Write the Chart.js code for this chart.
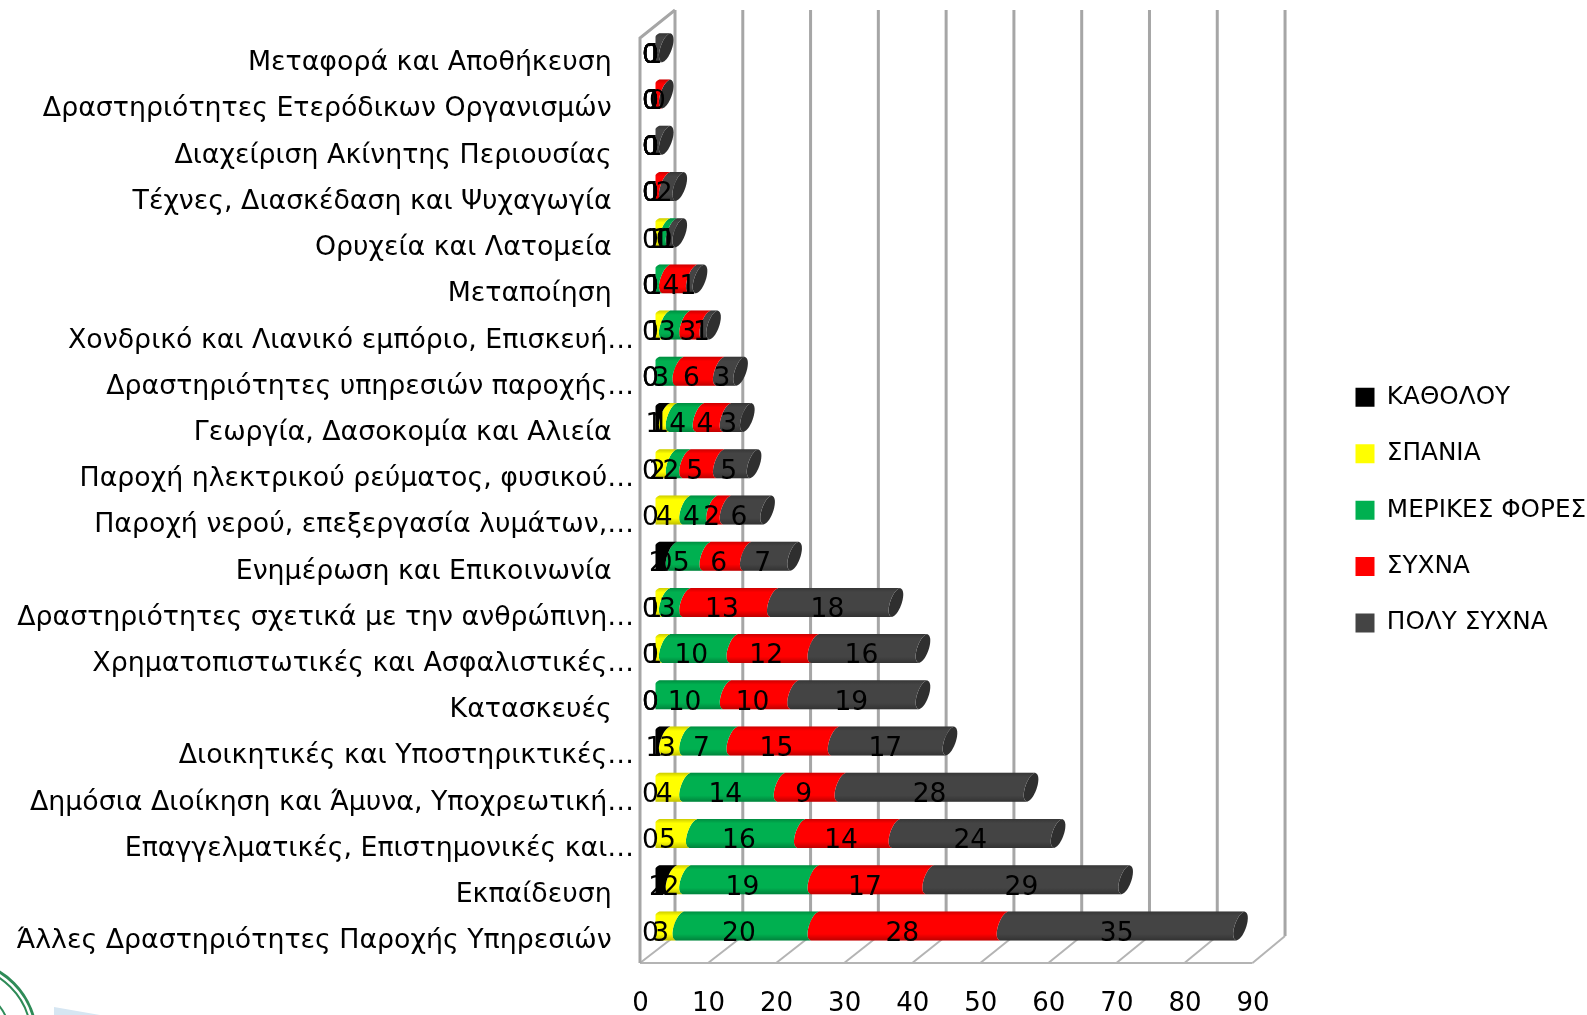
<!DOCTYPE html>
<html lang="el"><head><meta charset="utf-8">
<style>html,body{margin:0;padding:0;background:#fff}canvas{display:block}</style>
<script src="https://cdn.jsdelivr.net/npm/chart.js@4/dist/chart.umd.min.js"></script>
</head><body><canvas id="c" width="1587" height="1015"></canvas>
<script>
const categories = [
 "Μεταφορά και Αποθήκευση","Δραστηριότητες Ετερόδικων Οργανισμών","Διαχείριση Ακίνητης Περιουσίας",
 "Τέχνες, Διασκέδαση και Ψυχαγωγία","Ορυχεία και Λατομεία","Μεταποίηση",
 "Χονδρικό και Λιανικό εμπόριο, Επισκευή…","Δραστηριότητες υπηρεσιών παροχής…","Γεωργία, Δασοκομία και Αλιεία",
 "Παροχή ηλεκτρικού ρεύματος, φυσικού…","Παροχή νερού, επεξεργασία λυμάτων,…","Ενημέρωση και Επικοινωνία",
 "Δραστηριότητες σχετικά με την ανθρώπινη…","Χρηματοπιστωτικές και Ασφαλιστικές…","Κατασκευές",
 "Διοικητικές και Υποστηρικτικές…","Δημόσια Διοίκηση και Άμυνα, Υποχρεωτική…","Επαγγελματικές, Επιστημονικές και…",
 "Εκπαίδευση","Άλλες Δραστηριότητες Παροχής Υπηρεσιών"];
const kathólou    = [0,0,0,0,0,0,0,0,1,0,0,2,0,0,0,1,0,0,2,0];
const spania      = [0,0,0,0,1,0,1,0,1,2,4,0,1,1,0,3,4,5,2,3];
const merikes     = [0,0,0,0,1,1,3,3,4,2,4,5,3,10,10,7,14,16,19,20];
const sychna      = [0,1,0,1,0,4,3,6,4,5,2,6,13,12,10,15,9,14,17,28];
const polySychna  = [1,0,1,2,1,1,1,3,3,5,6,7,18,16,19,17,28,24,29,35];
const seriesNames = ["ΚΑΘΟΛΟΥ","ΣΠΑΝΙΑ","ΜΕΡΙΚΕΣ ΦΟΡΕΣ","ΣΥΧΝΑ","ΠΟΛΥ ΣΥΧΝΑ"];
const seriesColors = ["#000000","#FFFF00","#00B050","#FF0000","#444444"];
const FONT = '"DejaVu Sans"';

const TILT=4, BULGE=8;
let zeroPx=0;
const depth=px=>{const d=px-zeroPx;return zeroPx+d*0.9927+(d>0.5?4:0);};
class CylBar extends Chart.BarElement {
  static id='cylBar';
  draw(ctx){
    const p=this.getProps(['x','y','base','height']);
    const x=depth(p.x), base=depth(p.base), y=p.y, height=p.height;
    const top=y-height/2, bot=y+height/2;
    const o=this.options;
    const isLast=o.backgroundColor===seriesColors[seriesColors.length-1];
    const shade=ctx.createLinearGradient(0,top,0,bot);
    shade.addColorStop(0,'rgba(0,0,0,.2)');shade.addColorStop(.15,'rgba(0,0,0,0)');
    shade.addColorStop(.78,'rgba(0,0,0,0)');shade.addColorStop(1,'rgba(0,0,0,.25)');
    ctx.save();
    if(x-base>0.01){
      ctx.beginPath();
      ctx.moveTo(base+TILT,top);
      ctx.lineTo(x+TILT,top);
      ctx.bezierCurveTo(x+TILT-BULGE,top+2,x-TILT-BULGE,bot-2,x-TILT,bot);
      ctx.lineTo(base-TILT,bot);
      ctx.bezierCurveTo(base-TILT-BULGE,bot-2,base+TILT-BULGE,top+2,base+TILT,top);
      ctx.closePath();
      ctx.fillStyle=o.backgroundColor;ctx.fill();
      ctx.fillStyle=shade;ctx.fill();
    }
    if(isLast){
      ctx.beginPath();
      ctx.moveTo(x+TILT,top);
      ctx.bezierCurveTo(x+TILT+BULGE,top+2,x-TILT+BULGE,bot-2,x-TILT,bot);
      ctx.bezierCurveTo(x-TILT-BULGE,bot-2,x+TILT-BULGE,top+2,x+TILT,top);
      ctx.closePath();
      ctx.fillStyle='#2f2f2f';ctx.fill();
    }
    ctx.restore();
  }
}
Chart.register(CylBar);
Chart.defaults.datasets.bar.dataElementType='cylBar';

const values=[kathólou,spania,merikes,sychna,polySychna];

const walls={
  id:'walls',
  beforeLayout(chart){
    const l=chart.legend;
    if(!l.$fixed){
      const fit=l.fit;
      l.fit=function(){fit.call(this);this.width=319;};
      l.$fixed=true;
    }
  },
  afterLayout(chart){
    const l=chart.legend, p=l.options.labels.padding;
    const w=l.right-l.left;
    l.left=1355.5-p; l.right=l.left+w; l.top=385-p; l.bottom=l.top+l.height;
  },
  beforeDatasetsDraw(chart){
    const ctx=chart.ctx, xs=chart.scales.x;
    const z=xs.getPixelForValue(0);
    zeroPx=z;
    const frontX=v=>640+(xs.getPixelForValue(v)-z)*1.0;
    const backX=v=>675+(xs.getPixelForValue(v)-z)*0.996;
    const T=10,FT=38,B=963,BB=936;
    ctx.save();ctx.lineCap='butt';
    ctx.strokeStyle='#a6a6a6';ctx.lineWidth=3;
    for(let v=0;v<=90;v+=10){
      ctx.beginPath();ctx.moveTo(backX(v),T);ctx.lineTo(backX(v),BB);ctx.stroke();
    }
    ctx.strokeStyle='#b4b4b4';ctx.lineWidth=2;
    for(let v=0;v<=90;v+=10){
      ctx.beginPath();ctx.moveTo(frontX(v),B);ctx.lineTo(backX(v),BB);ctx.stroke();
    }
    ctx.beginPath();ctx.moveTo(frontX(0),B);ctx.lineTo(frontX(90),B);ctx.stroke();
    ctx.strokeStyle='#a6a6a6';ctx.lineWidth=3;
    ctx.beginPath();ctx.moveTo(frontX(0),B);ctx.lineTo(frontX(0),FT);ctx.lineTo(backX(0),T);ctx.stroke();
    ctx.restore();
  },
  afterDatasetsDraw(chart){
    const ctx=chart.ctx;
    ctx.save();ctx.font='26.5px '+FONT;ctx.fillStyle='#000';ctx.textAlign='center';ctx.textBaseline='middle';
    chart.data.datasets.forEach((ds,i)=>{
      chart.getDatasetMeta(i).data.forEach((el,j)=>{
        const p=el.getProps(['x','y','base']);
        ctx.fillText(String(ds.data[j]),(p.x+p.base)/2-5,p.y+8);
      });
    });
    ctx.restore();
  },
  beforeDraw(chart){
    const ctx=chart.ctx;
    ctx.save();
    ctx.fillStyle='#d6e6f2';
    ctx.beginPath();ctx.moveTo(54,1007);ctx.lineTo(100,1015);ctx.lineTo(54,1015);ctx.closePath();ctx.fill();
    ctx.strokeStyle='#2e8b57';
    [[76,3],[71,2],[50,2]].forEach(([r,w])=>{
      ctx.lineWidth=w;ctx.beginPath();ctx.arc(-40,1037,r,0,2*Math.PI);ctx.stroke();
    });
    ctx.restore();
  }
};

new Chart(document.getElementById('c'),{
  type:'bar',
  data:{labels:categories,datasets:seriesNames.map((n,i)=>({
    label:n,data:values[i],backgroundColor:seriesColors[i],borderWidth:0,
    categoryPercentage:1,barPercentage:0.627
  }))},
  options:{
    indexAxis:'y',responsive:false,animation:false,
    layout:{autoPadding:false,padding:{top:24.7,left:0,right:0,bottom:0}},
    plugins:{
      tooltip:{enabled:false},
      legend:{position:'right',align:'start',
        labels:{boxWidth:19,boxHeight:19,padding:31.7,color:'#000',font:{family:FONT,size:24.7}}}
    },
    scales:{
      x:{stacked:true,min:0,max:90,
        grid:{display:false,drawTicks:false},border:{display:false},
        ticks:{stepSize:10,autoSkip:false,maxRotation:0,padding:40,labelOffset:-15,color:'#000',font:{family:FONT,size:26}},
        afterFit(s){s.height=66;s.paddingLeft=0;s.paddingRight=0;}},
      y:{stacked:true,
        grid:{display:false,drawTicks:false},border:{display:false},
        ticks:{autoSkip:false,crossAlign:'near',padding:21.5,labelOffset:15.5,color:'#000',font:{family:FONT,size:26.8},
          callback(v){const s=this.getLabelForValue(v);return s.endsWith('…')?s:s+'  \u2009';}},
        afterFit(s){s.width=655.5;s.paddingTop=0;s.paddingBottom=0;}}
    }
  },
  plugins:[walls]
});
</script></body></html>
